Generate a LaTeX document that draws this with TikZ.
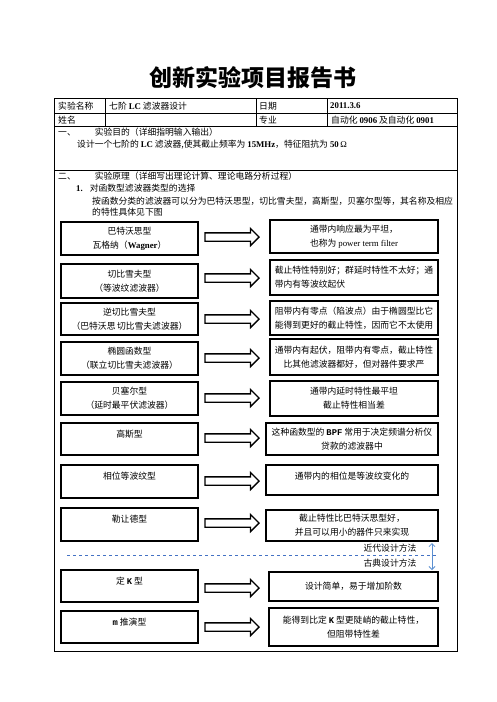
\documentclass[tikz,border=0pt]{standalone}
\usepackage{fontspec}
\setmainfont{Noto Sans CJK SC}
\newfontfamily\lat{Liberation Serif}
\newfontfamily\mono{Liberation Mono}
\usepackage{xcolor}
\usetikzlibrary{
    shapes.arrows,
    arrows.meta,
    positioning,
    calc
}
\definecolor{lineblue}{HTML}{4472C4}
\definecolor{arrowblue}{HTML}{5B8FD0}
\newcommand{\bodyfont}{\fontsize{8.8pt}{14pt}\selectfont}
\newcommand{\en}[1]{{\lat\bfseries #1}}
\newcommand{\cw}[1]{{\mono\bfseries #1}}

\begin{document}
\begin{tikzpicture}[
        x=1pt, y=-1pt,
        block/.style={draw, line width=1.3pt, minimum width=137pt, minimum height=33pt, align=center, inner sep=2pt, font=\bodyfont},
        info/.style={block, minimum width=168pt},
        topbox/.style={draw, line width=1.3pt, minimum width=137pt, minimum height=33pt, inner sep=0pt},
        toptext/.style={anchor=north, yshift=-4pt, font=\bodyfont},
        cell/.style={anchor=west, inner sep=0pt, font=\bodyfont},
        fatarrow/.style={single arrow, draw, line width=1.3pt, fill=white, minimum height=54pt, inner xsep=2pt, inner ysep=3.5pt, single arrow head extend=4.5pt, text height=0pt, text depth=0pt}
    ]
        \useasboundingbox (0,0) rectangle (496,702);

        % Title
        \node[font=\fontsize{23pt}{26pt}\selectfont\bfseries] (title) at (253,78) {创新实验项目报告书};

        % Table frame
        \draw[line width=0.8pt] (54,98) rectangle (457,651);
        \draw[line width=0.8pt] (54,113) -- (457,113);
        \draw[line width=0.8pt] (54,126) -- (457,126);
        \draw[line width=0.8pt] (54,170) -- (457,170);
        \foreach \x in {105,256,327}
            \draw[line width=0.8pt] (\x,98) -- (\x,126);

        % Header cells
        \node[cell] (name) at (58,106) {实验名称};
        \node[cell] (topic) at (109,106) {七阶 \en{LC} 滤波器设计};
        \node[cell] (date) at (259,106) {日期};
        \node[cell] (dateval) at (330,106) {\en{2011.3.6}};
        \node[cell] (who) at (58,120) {姓名};
        \node[cell] (major) at (259,120) {专业};
        \node[cell] (majorval) at (331,120) {自动化 \en{0906} 及自动化 \en{0901}};

        % Part one
        \node[cell] (aim) at (58,132) {一、\hspace{19pt}实验目的（详细指明输入输出）};
        \node[cell] (aimtext) at (77,145) {设计一个七阶的 \en{LC} 滤波器,使其截止频率为 \en{15MHz}，特征阻抗为 \en{50}\,{\lat Ω}};

        % Part two
        \node[cell] (theory) at (58,176) {二、\hspace{19pt}实验原理（详细写出理论计算、理论电路分析过程）};
        \node[cell] (item) at (76,188) {\en{1.}\hspace{7pt}对函数型滤波器类型的选择};
        \node[cell] (intro) at (92,201) {按函数分类的滤波器可以分为巴特沃思型，切比雪夫型，高斯型，贝塞尔型等，其名称及相应};
        \node[cell] (intro2) at (92,212) {的特性具体见下图};

        % Filter types
        \node[block] (l1) at (129.5,238.5) {巴特沃思型\\瓦格纳（\en{Wagner}）};
        \node[info] (r1) at (354,236.5) {通带内响应最为平坦，\\也称为 {\lat power term filter}};
        \node[fatarrow] (a1) at (230,237) {};

        \node[block, minimum height=34pt] (l2) at (129.5,281) {切比雪夫型\\（等波纹滤波器）};
        \node[info, minimum height=35pt, align=left] (r2) at (354,277.5) {截止特性特别好；群延时特性不太好；通\\带内有等波纹起伏};
        \node[fatarrow] (a2) at (230,278) {};

        \node[block, minimum height=32pt] (l3) at (129.5,319) {逆切比雪夫型\\（巴特沃思\,切比雪夫滤波器）};
        \node[info, minimum height=34pt, align=left] (r3) at (354,318) {阻带内有零点（陷波点）由于椭圆型比它\\能得到更好的截止特性，因而它不太使用};
        \node[fatarrow] (a3) at (230,319) {};

        \node[block] (l4) at (129.5,358.5) {椭圆函数型\\（联立切比雪夫滤波器）};
        \node[info, minimum height=36pt] (r4) at (354,357) {通带内有起伏，阻带内有零点，截止特性\\比其他滤波器都好，但对器件要求严};
        \node[fatarrow] (a4) at (230,358) {};

        \node[block] (l5) at (129.5,398.5) {贝塞尔型\\（延时最平伏滤波器）};
        \node[info, minimum height=35pt] (r5) at (354,398.5) {通带内延时特性最平坦\\截止特性相当差};
        \node[fatarrow] (a5) at (230,398) {};

        \node[topbox, minimum height=32pt, label={[toptext]north:高斯型}] (l6) at (129.5,439) {};
        \node[info, minimum width=172pt, minimum height=32pt] (r6) at (352,439) {这种函数型的 \cw{BPF} 常用于决定频谱分析仪\\贷款的滤波器中};
        \node[fatarrow] (a6) at (230,438) {};

        \node[topbox, label={[toptext]north:相位等波纹型}] (l7) at (129.5,481.5) {};
        \node[topbox, minimum width=172pt, minimum height=30pt, label={[toptext]north:通带内的相位是等波纹变化的}] (r7) at (352,480) {};
        \node[fatarrow] (a7) at (230,481) {};

        \node[topbox, label={[toptext]north:勒让德型}] (l8) at (129.5,524.5) {};
        \node[info, minimum width=172pt, minimum height=31pt] (r8) at (352,525.5) {截止特性比巴特沃思型好，\\并且可以用小的器件只来实现};
        \node[fatarrow] (a8) at (230,523) {};

        % Modern / classic split
        \coordinate (splitL) at (67,555);
        \coordinate (splitR) at (438,555);
        \draw[lineblue, dashed, line width=0.6pt] (splitL) -- (splitR);
        \node[font=\bodyfont] (modern) at (390,548) {近代设计方法};
        \node[font=\bodyfont] (classic) at (390,563) {古典设计方法};
        \coordinate (upT) at (432,543);
        \coordinate (upB) at (432,570);
        \draw[arrowblue, line width=0.8pt, {Straight Barb[length=3pt]}-{Straight Barb[length=3pt]}] (upT) -- (upB);

        \node[topbox, minimum height=32pt, label={[toptext]north:定 \cw{K} 型}] (l9) at (129.5,586) {};
        \node[info, minimum width=169pt, minimum height=29pt] (r9) at (353.5,586.5) {设计简单，易于增加阶数};
        \node[fatarrow] (a9) at (230,588) {};

        \node[topbox, minimum height=32pt, label={[toptext]north:\cw{m} 推演型}] (l10) at (129.5,627) {};
        \node[info, minimum width=169pt, minimum height=38pt] (r10) at (353.5,627) {能得到比定 \cw{K} 型更陡峭的截止特性，\\但阻带特性差};
        \node[fatarrow] (a10) at (230,627) {};
    \end{tikzpicture}
\end{document}
